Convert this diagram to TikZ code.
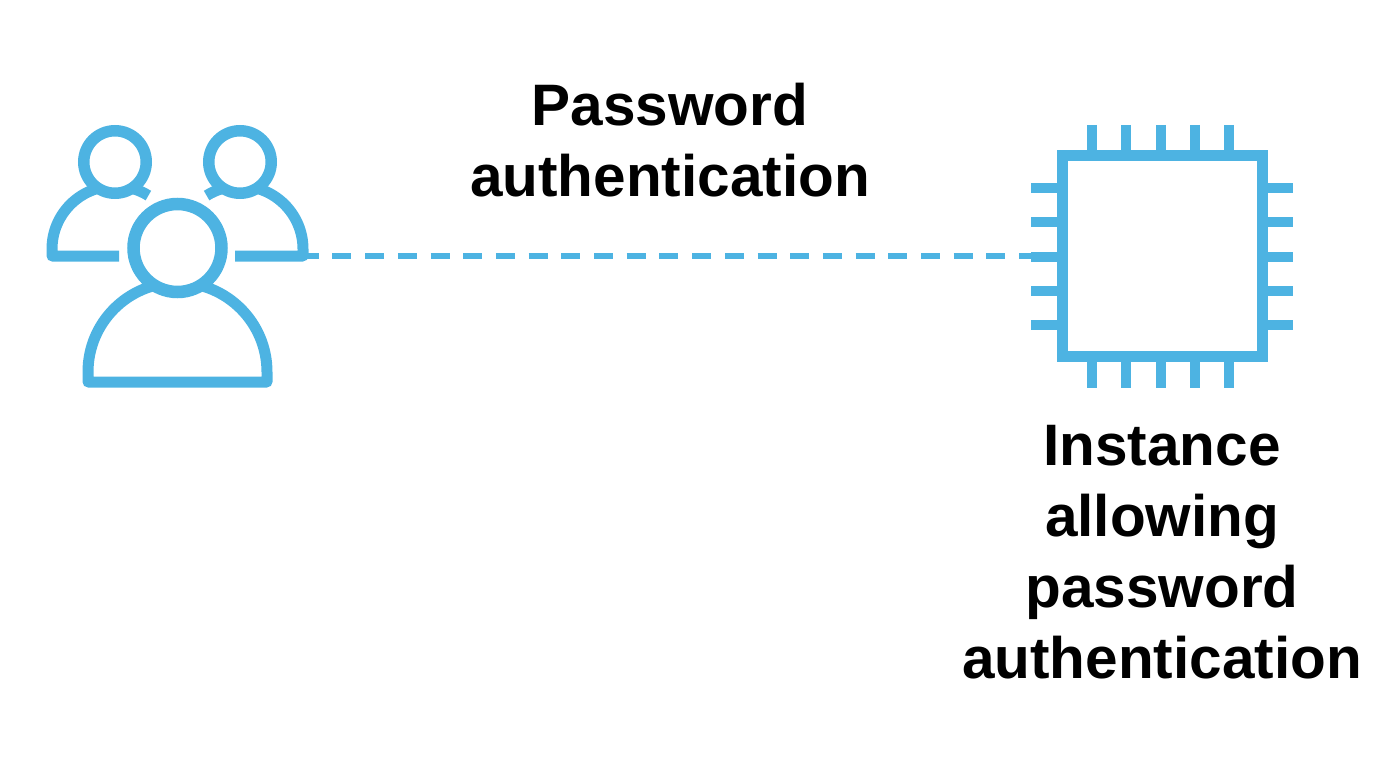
\documentclass[tikz,border=0pt]{standalone}
\usepackage{fontspec}
\setmainfont{Liberation Sans}
\definecolor{iconblue}{HTML}{4DB3E2}
\tikzset{
  x=1pt,y=-1pt,
  icon/.style={draw=iconblue,line width=11pt,line join=round},
  ring/.style={circle,draw=iconblue,fill=white,inner sep=0pt,outer sep=0pt},
  pin/.style={draw=iconblue,line width=10.5pt},
  link/.style={draw=iconblue,line width=6.5pt,dash pattern=on 19pt off 13.7pt,dash phase=3.3pt},
  lbl/.style={font=\fontsize{58.5}{71}\selectfont\bfseries,text=black,align=center,inner sep=0pt},
}
\begin{document}
\begin{tikzpicture}
\useasboundingbox (0,0) rectangle (1394,778);
% left and right background users
\draw[icon] (119,256) -- (52,256) -- (52,249) arc[start angle=180,end angle=302,radius=63];
\draw[icon] (235,256) -- (303,256) -- (303,249) arc[start angle=0,end angle=-122,radius=63];
\node[ring,line width=11.5pt,minimum size=62.5pt] (headl) at (115,162) {};
\node[ring,line width=11.5pt,minimum size=62.5pt] (headr) at (240,162) {};
% front user
\draw[icon,fill=white] (88,382) -- (88,372) arc[start angle=180,end angle=360,radius=89.5] -- (267,382) -- cycle;
\node[ring,line width=12.5pt,minimum size=88pt] (headc) at (177.5,248) {};
\coordinate (users) at (303,256);
% instance chip
\node[draw=iconblue,line width=11pt,minimum size=200pt,inner sep=0pt,outer sep=0pt] (chip) at (1162,256) {};
\foreach \p in {1092,1126,1161,1195,1229}{
  \draw[pin] (\p,125) -- (\p,151);
  \draw[pin] (\p,361) -- (\p,388);
}
\foreach \p in {188,222,257,291,325}{
  \draw[pin] (1031,\p) -- (1057,\p);
  \draw[pin] (1267,\p) -- (1293,\p);
}
\draw[link] (users) -- (chip.west);
\node[lbl] (passlabel) at (670,140) {Password\\authentication};
\node[lbl] (instlabel) at (1162,552) {Instance\\allowing\\password\\authentication};
\end{tikzpicture}
\end{document}
